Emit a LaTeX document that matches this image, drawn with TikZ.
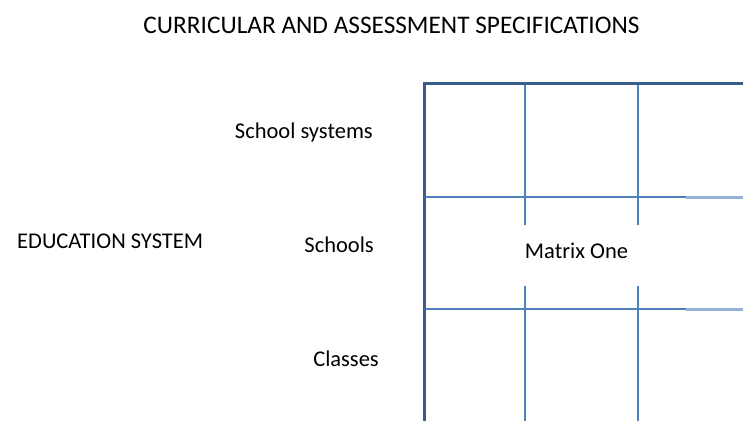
\documentclass[tikz,border=0pt]{standalone}
\usepackage{fontspec}
\setmainfont{Carlito}
\usepackage{tikz}
\usetikzlibrary{positioning}

\definecolor{gridDark}{HTML}{385D8A}
\definecolor{gridMid}{HTML}{4F81BD}
\definecolor{gridLight}{HTML}{95B3D7}

\tikzset{
  label/.style={inner sep=0pt, font=\fontsize{22.5}{26}\selectfont},
  border/.style={gridDark, line width=3pt},
  rule/.style={gridMid, line width=2.4pt},
  ruleLight/.style={gridLight, line width=2.8pt},
}

\begin{document}
\begin{tikzpicture}[x=1pt,y=1pt]
\useasboundingbox (0,0) rectangle (743,421);

% headings and row names
\node[label, font=\fontsize{25.3}{29}\selectfont] (title) at (391.5,396) {CURRICULAR AND ASSESSMENT SPECIFICATIONS};
\node[label, anchor=west] (edu) at (17,180) {EDUCATION SYSTEM};
\node[label, anchor=east] (sys) at (373,288) {School systems};
\node[label, anchor=east] (schools) at (374,176) {Schools};
\node[label, anchor=east] (classes) at (379,62) {Classes};

% gap in the middle row, text sits a little above its centre
\node[label, minimum height=61pt, text depth=10pt] (matrix) at (576.5,165.5) {Matrix One};

% column ends
\coordinate (colAtop) at (525,336);
\coordinate (colAbot) at (525,0);
\coordinate (colBtop) at (638,336);
\coordinate (colBbot) at (638,0);

% outer frame
\draw[border] (423,337) -- (743,337);
\draw[border] (424,338.5) -- (424,0);

% row rules
\draw[rule] (425,224) -- (686,224);
\draw[ruleLight] (686,223.5) -- (743,223.5);
\draw[rule, line width=2.8pt] (425,112) -- (686,112);
\draw[ruleLight] (686,111.5) -- (743,111.5);

% column rules, broken around the label
\draw[rule, line width=2.6pt] (colAtop) -- (colAtop |- matrix.north);
\draw[rule, line width=2.6pt] (colAbot |- matrix.south) -- (colAbot);
\draw[rule, line width=1.8pt] (colBtop) -- (colBtop |- matrix.north);
\draw[rule, line width=1.8pt] (colBbot |- matrix.south) -- (colBbot);

\end{tikzpicture}
\end{document}
